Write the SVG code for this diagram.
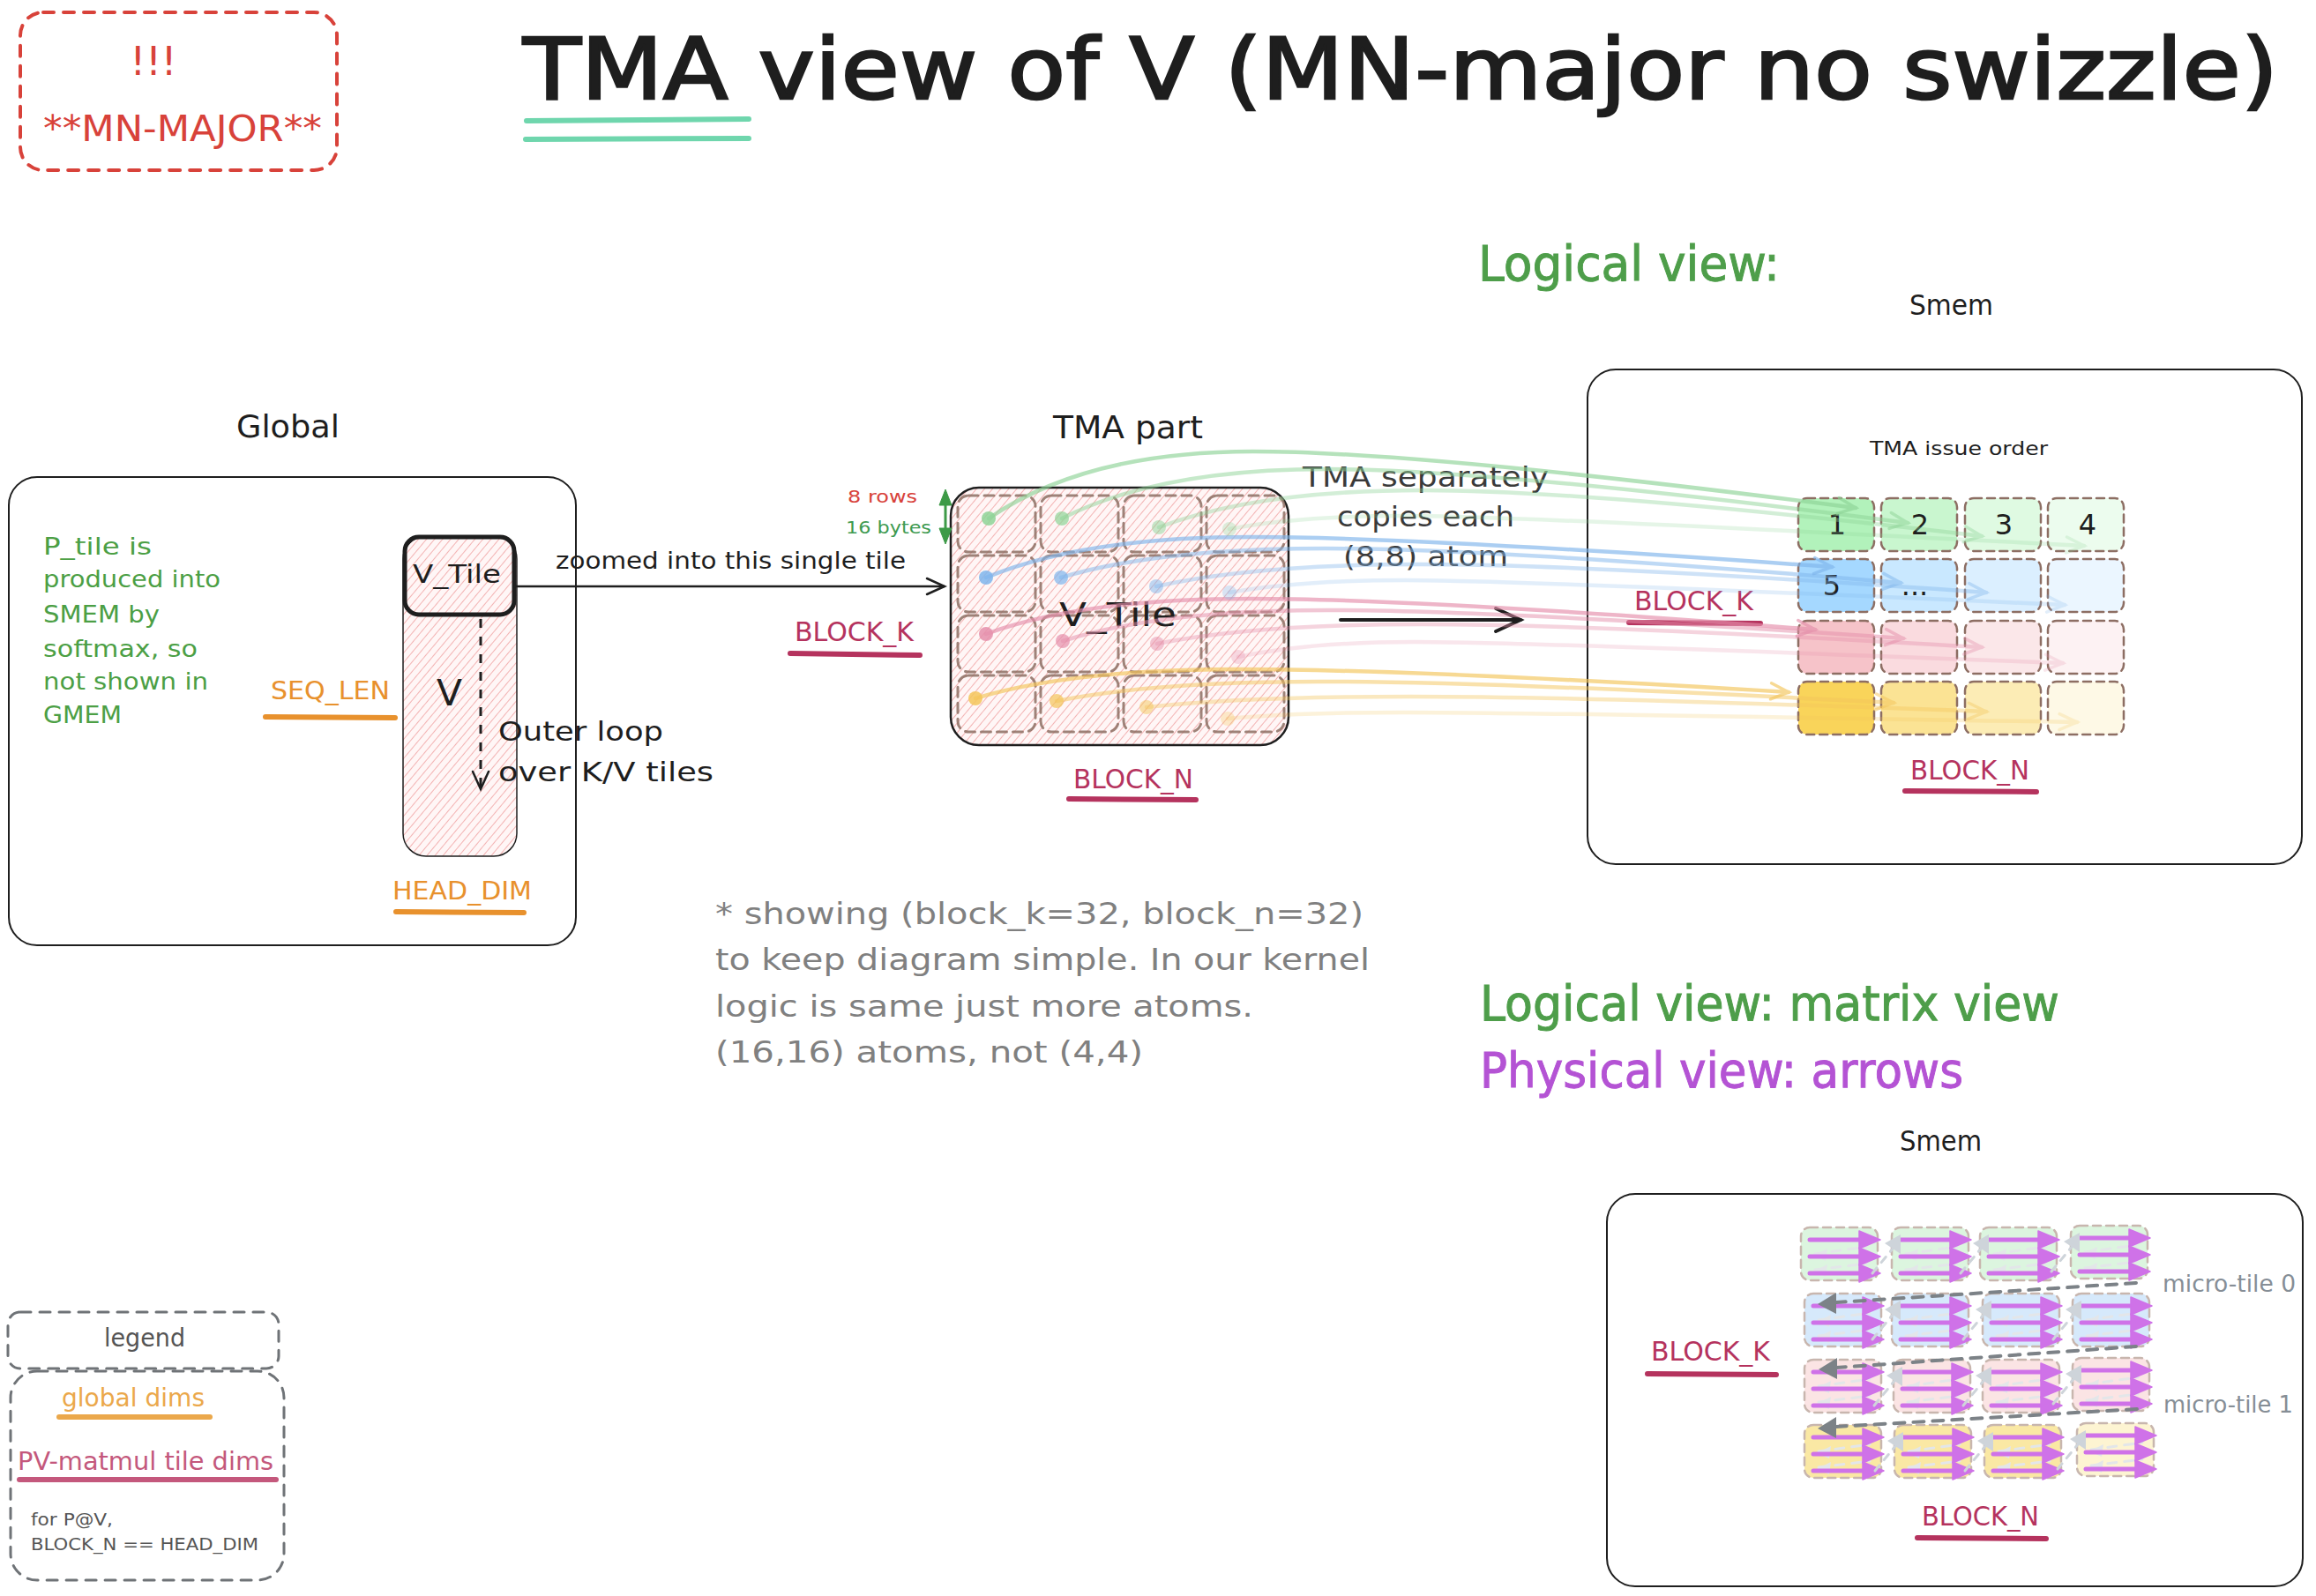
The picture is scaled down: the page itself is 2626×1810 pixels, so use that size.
<svg xmlns="http://www.w3.org/2000/svg" xmlns:xlink="http://www.w3.org/1999/xlink" width="2626" height="1810" viewBox="0 0 2626 1810">
<style>
text{font-family:"DejaVu Sans","Liberation Sans",sans-serif;}
.ink{fill:#1e1e1e}
.red{fill:#d8423a}
.grn{fill:#4e9e4a}
.pur{fill:#b453d4}
.gry{fill:#808080}
.mgry{fill:#868e96}
.org{fill:#e8912d}
.crm{fill:#b5335e}
.box{fill:none;stroke:#1e1e1e;stroke-width:2}
.uline{stroke-width:6;stroke-linecap:round;fill:none}
.cellL{stroke:#8d6e63;stroke-width:2.5;stroke-dasharray:9 6;stroke-linecap:round}
.cellT{fill:none;stroke:#8d6e63;stroke-width:3;stroke-dasharray:11 7;stroke-linecap:round;opacity:.85}
.cellP{stroke:#c8b6ae;stroke-width:2.5;stroke-dasharray:9 6;stroke-linecap:round}
.curve{fill:none;stroke-width:4.5;stroke-linecap:round}
.wrap{fill:none;stroke:#7c8287;stroke-width:4;stroke-dasharray:12 10;stroke-linecap:round}
.lgwrap{fill:none;stroke:#ced4da;stroke-width:3;stroke-dasharray:8 8;stroke-linecap:round}
</style>
<defs>
<pattern id="hatch" patternUnits="userSpaceOnUse" width="7" height="7" patternTransform="rotate(40)">
<rect width="7" height="7" fill="#fff6f6"/>
<line x1="0" y1="0" x2="0" y2="7" stroke="#f0a2a2" stroke-width="1.6"/>
</pattern>
<marker id="mBlack" markerUnits="userSpaceOnUse" markerWidth="30" markerHeight="30" viewBox="-24 -15 30 30" refX="0" refY="0" orient="auto">
<path d="M-20,-9 L0,0 L-20,9" fill="none" stroke="#1e1e1e" stroke-width="2.5" stroke-linecap="round"/>
</marker>
<marker id="mBlackBig" markerUnits="userSpaceOnUse" markerWidth="40" markerHeight="40" viewBox="-34 -20 40 40" refX="0" refY="0" orient="auto">
<path d="M-28,-13 L0,0 L-28,13" fill="none" stroke="#1e1e1e" stroke-width="4" stroke-linecap="round"/>
</marker>
<marker id="mG" markerUnits="userSpaceOnUse" markerWidth="30" markerHeight="30" viewBox="-24 -15 30 30" refX="0" refY="0" orient="auto">
<path d="M-20,-9 L0,0 L-20,9" fill="none" stroke="#8ed497" stroke-width="3.5" stroke-linecap="round"/>
</marker>
<marker id="mB" markerUnits="userSpaceOnUse" markerWidth="30" markerHeight="30" viewBox="-24 -15 30 30" refX="0" refY="0" orient="auto">
<path d="M-20,-9 L0,0 L-20,9" fill="none" stroke="#7fb5ec" stroke-width="3.5" stroke-linecap="round"/>
</marker>
<marker id="mP" markerUnits="userSpaceOnUse" markerWidth="30" markerHeight="30" viewBox="-24 -15 30 30" refX="0" refY="0" orient="auto">
<path d="M-20,-9 L0,0 L-20,9" fill="none" stroke="#e58fab" stroke-width="3.5" stroke-linecap="round"/>
</marker>
<marker id="mY" markerUnits="userSpaceOnUse" markerWidth="30" markerHeight="30" viewBox="-24 -15 30 30" refX="0" refY="0" orient="auto">
<path d="M-20,-9 L0,0 L-20,9" fill="none" stroke="#f4c55a" stroke-width="3.5" stroke-linecap="round"/>
</marker>
<g id="parr">
<path d="M16,30 L74,22 M16,48 L74,41" fill="none" stroke="#e3e6e9" stroke-width="3" stroke-dasharray="10 9" stroke-linecap="round"/>
<polygon points="14,32 30,24 28,38" fill="#e3e6e9"/>
<polygon points="14,50 30,42 28,56" fill="#e3e6e9"/>
<g stroke="#cf72e8" stroke-width="5" fill="#cf72e8" stroke-linecap="round" stroke-linejoin="round">
<line x1="10" y1="14" x2="68" y2="14"/>
<polygon points="66,4 90,14 66,24" stroke-width="1.5"/>
<line x1="10" y1="33" x2="68" y2="33"/>
<polygon points="66,23 90,33 66,43" stroke-width="1.5"/>
<line x1="10" y1="52" x2="68" y2="52"/>
<polygon points="66,42 90,52 66,62" stroke-width="1.5"/>
</g>
</g>
<g id="lgArr">
<path d="M-22,52 L6,18" class="lgwrap"/>
<polygon points="-8,18 10,8 10,30" fill="#ced4da"/>
</g>
</defs>

<rect width="2626" height="1810" fill="#ffffff"/>

<g id="mn-major-note">
<rect x="23" y="14" width="359" height="179" rx="26" fill="none" stroke="#d8423a" stroke-width="4" stroke-dasharray="12 11" stroke-linecap="round"/>
<text x="174" y="85" class="red" font-size="44" text-anchor="middle">!!!</text>
<text x="49" y="160" class="red" font-size="40" textLength="316" lengthAdjust="spacingAndGlyphs">**MN-MAJOR**</text>
</g>

<g id="title">
<text x="593" y="112" class="ink" font-size="96" stroke="#1e1e1e" stroke-width="2.5" textLength="1990" lengthAdjust="spacingAndGlyphs">TMA view of V (MN-major no swizzle)</text>
<line x1="597" y1="137" x2="849" y2="135" class="uline" stroke="#6fd6ad"/>
<line x1="596" y1="158" x2="849" y2="157" class="uline" stroke="#6fd6ad"/>
</g>

<g id="logical-view-label">
<text x="1676" y="318" class="grn" font-size="56" stroke="#4e9e4a" stroke-width="1" textLength="342" lengthAdjust="spacingAndGlyphs">Logical view:</text>
</g>

<g id="global-box">
<text x="268" y="496" class="ink" font-size="36" textLength="117" lengthAdjust="spacingAndGlyphs">Global</text>
<rect x="10" y="541" width="643" height="531" rx="32" class="box"/>
<g fill="#4c9f45" font-size="27">
<text x="49" y="629" textLength="123" lengthAdjust="spacingAndGlyphs">P_tile is</text>
<text x="49" y="666" textLength="201" lengthAdjust="spacingAndGlyphs">produced into</text>
<text x="49" y="706" textLength="132" lengthAdjust="spacingAndGlyphs">SMEM by</text>
<text x="49" y="745" textLength="175" lengthAdjust="spacingAndGlyphs">softmax, so</text>
<text x="49" y="782" textLength="187" lengthAdjust="spacingAndGlyphs">not shown in</text>
<text x="49" y="820" textLength="89" lengthAdjust="spacingAndGlyphs">GMEM</text>
</g>
<text x="307" y="793" class="org" font-size="28" textLength="135" lengthAdjust="spacingAndGlyphs">SEQ_LEN</text>
<line x1="301" y1="813" x2="448" y2="814" class="uline" stroke="#e8912d"/>
<text x="445" y="1020" class="org" font-size="28" textLength="158" lengthAdjust="spacingAndGlyphs">HEAD_DIM</text>
<line x1="449" y1="1034" x2="594" y2="1035" class="uline" stroke="#e8912d"/>
</g>

<g id="v-column">
<rect x="457" y="608" width="129" height="363" rx="26" fill="url(#hatch)" stroke="#1e1e1e" stroke-width="1.5"/>
<rect x="459" y="609" width="124" height="88" rx="16" fill="none" stroke="#1e1e1e" stroke-width="5"/>
<text x="468" y="661" class="ink" font-size="28" textLength="100" lengthAdjust="spacingAndGlyphs">V_Tile</text>
<text x="495" y="800" class="ink" font-size="40" textLength="29" lengthAdjust="spacingAndGlyphs">V</text>
</g>

<g id="outer-loop-label">
<text x="565" y="840" class="ink" font-size="30" textLength="187" lengthAdjust="spacingAndGlyphs">Outer loop</text>
<text x="565" y="886" class="ink" font-size="30" textLength="244" lengthAdjust="spacingAndGlyphs">over K/V tiles</text>
</g>

<g id="zoom-label">
<text x="630" y="645" class="ink" font-size="26" textLength="397" lengthAdjust="spacingAndGlyphs">zoomed into this single tile</text>
</g>

<g id="tma-part">
<text x="1194" y="497" class="ink" font-size="36" textLength="170" lengthAdjust="spacingAndGlyphs">TMA part</text>
<rect x="1078" y="553" width="383" height="292" rx="32" fill="url(#hatch)" stroke="#1e1e1e" stroke-width="2.5"/>
<rect x="1086" y="562" width="88" height="64" rx="12" class="cellT"/>
<rect x="1180" y="562" width="88" height="64" rx="12" class="cellT"/>
<rect x="1274" y="562" width="88" height="64" rx="12" class="cellT"/>
<rect x="1368" y="562" width="88" height="64" rx="12" class="cellT"/>
<rect x="1086" y="630" width="88" height="64" rx="12" class="cellT"/>
<rect x="1180" y="630" width="88" height="64" rx="12" class="cellT"/>
<rect x="1274" y="630" width="88" height="64" rx="12" class="cellT"/>
<rect x="1368" y="630" width="88" height="64" rx="12" class="cellT"/>
<rect x="1086" y="698" width="88" height="64" rx="12" class="cellT"/>
<rect x="1180" y="698" width="88" height="64" rx="12" class="cellT"/>
<rect x="1274" y="698" width="88" height="64" rx="12" class="cellT"/>
<rect x="1368" y="698" width="88" height="64" rx="12" class="cellT"/>
<rect x="1086" y="766" width="88" height="64" rx="12" class="cellT"/>
<rect x="1180" y="766" width="88" height="64" rx="12" class="cellT"/>
<rect x="1274" y="766" width="88" height="64" rx="12" class="cellT"/>
<rect x="1368" y="766" width="88" height="64" rx="12" class="cellT"/>
<text x="1201" y="710" class="ink" font-size="38" textLength="133" lengthAdjust="spacingAndGlyphs">V_Tile</text>
<text x="961" y="570" class="red" font-size="20" textLength="79" lengthAdjust="spacingAndGlyphs">8 rows</text>
<text x="959" y="605" fill="#3d9a50" font-size="20" textLength="97" lengthAdjust="spacingAndGlyphs">16 bytes</text>
<text x="901" y="727" class="crm" font-size="30" textLength="135" lengthAdjust="spacingAndGlyphs">BLOCK_K</text>
<line x1="896" y1="741" x2="1043" y2="743" class="uline" stroke="#b5335e"/>
<text x="1217" y="894" class="crm" font-size="30" textLength="136" lengthAdjust="spacingAndGlyphs">BLOCK_N</text>
<line x1="1212" y1="906" x2="1356" y2="907" class="uline" stroke="#b5335e"/>
</g>

<g id="tma-copy-note">
<text x="1477" y="552" fill="#3a3a3a" font-size="32" textLength="279" lengthAdjust="spacingAndGlyphs">TMA separately</text>
<text x="1516" y="597" fill="#3a3a3a" font-size="32" textLength="201" lengthAdjust="spacingAndGlyphs">copies each</text>
<text x="1523" y="642" fill="#3a3a3a" font-size="32" textLength="187" lengthAdjust="spacingAndGlyphs">(8,8) atom</text>
</g>

<g id="smem-logical">
<text x="2165" y="357" class="ink" font-size="32" textLength="95" lengthAdjust="spacingAndGlyphs">Smem</text>
<rect x="1800" y="419" width="810" height="561" rx="32" class="box"/>
<text x="2120" y="516" class="ink" font-size="22" textLength="202" lengthAdjust="spacingAndGlyphs">TMA issue order</text>
<g fill="#b2f2bb">
<rect x="2039" y="565" width="86" height="60" rx="10" class="cellL"/>
<rect x="2133" y="565" width="86" height="60" rx="10" class="cellL" fill-opacity=".7"/>
<rect x="2228" y="565" width="86" height="60" rx="10" class="cellL" fill-opacity=".42"/>
<rect x="2322" y="565" width="86" height="60" rx="10" class="cellL" fill-opacity=".25"/>
</g>
<g fill="#a5d8ff">
<rect x="2039" y="634" width="86" height="60" rx="10" class="cellL"/>
<rect x="2133" y="634" width="86" height="60" rx="10" class="cellL" fill-opacity=".6"/>
<rect x="2228" y="634" width="86" height="60" rx="10" class="cellL" fill-opacity=".4"/>
<rect x="2322" y="634" width="86" height="60" rx="10" class="cellL" fill-opacity=".22"/>
</g>
<g fill="#f6c3c9">
<rect x="2039" y="704" width="86" height="60" rx="10" class="cellL"/>
<rect x="2133" y="704" width="86" height="60" rx="10" class="cellL" fill-opacity=".6"/>
<rect x="2228" y="704" width="86" height="60" rx="10" class="cellL" fill-opacity=".4"/>
<rect x="2322" y="704" width="86" height="60" rx="10" class="cellL" fill-opacity=".22"/>
</g>
<g fill="#f9d45a">
<rect x="2039" y="773" width="86" height="60" rx="10" class="cellL"/>
<rect x="2133" y="773" width="86" height="60" rx="10" class="cellL" fill-opacity=".65"/>
<rect x="2228" y="773" width="86" height="60" rx="10" class="cellL" fill-opacity=".45"/>
<rect x="2322" y="773" width="86" height="60" rx="10" class="cellL" fill-opacity=".15"/>
</g>
<g class="ink" font-size="32" text-anchor="middle">
<text x="2083" y="606">1</text>
<text x="2177" y="606">2</text>
<text x="2272" y="606">3</text>
<text x="2367" y="606">4</text>
<text x="2077" y="675">5</text>
<text x="2171" y="675">...</text>
</g>
<text x="1853" y="692" class="crm" font-size="30" textLength="135" lengthAdjust="spacingAndGlyphs">BLOCK_K</text>
<line x1="1847" y1="706" x2="1996" y2="707" class="uline" stroke="#b5335e"/>
<text x="2166" y="884" class="crm" font-size="30" textLength="135" lengthAdjust="spacingAndGlyphs">BLOCK_N</text>
<line x1="2160" y1="897" x2="2309" y2="898" class="uline" stroke="#b5335e"/>
</g>

<g id="footnote">
<g class="gry" font-size="34">
<text x="811" y="1048" textLength="735" lengthAdjust="spacingAndGlyphs">* showing (block_k=32, block_n=32)</text>
<text x="811" y="1100" textLength="742" lengthAdjust="spacingAndGlyphs">to keep diagram simple. In our kernel</text>
<text x="811" y="1153" textLength="610" lengthAdjust="spacingAndGlyphs">logic is same just more atoms.</text>
<text x="811" y="1205" textLength="485" lengthAdjust="spacingAndGlyphs">(16,16) atoms, not (4,4)</text>
</g>
</g>

<g id="view-labels">
<text x="1678" y="1157" class="grn" font-size="56" stroke="#4e9e4a" stroke-width="1" textLength="657" lengthAdjust="spacingAndGlyphs">Logical view: matrix view</text>
<text x="1678" y="1233" class="pur" font-size="56" stroke="#b453d4" stroke-width="1" textLength="548" lengthAdjust="spacingAndGlyphs">Physical view: arrows</text>
</g>

<g id="smem-physical">
<text x="2154" y="1305" class="ink" font-size="32" textLength="93" lengthAdjust="spacingAndGlyphs">Smem</text>
<rect x="1822" y="1354" width="789" height="445" rx="32" class="box"/>
<g fill="#dcf5df">
<rect x="2042" y="1392" width="87" height="60" rx="10" class="cellP"/>
<rect x="2145" y="1392" width="87" height="60" rx="10" class="cellP"/>
<rect x="2245" y="1392" width="87" height="60" rx="10" class="cellP"/>
<rect x="2348" y="1390" width="87" height="60" rx="10" class="cellP"/>
</g>
<g fill="#d6e9fb">
<rect x="2046" y="1467" width="87" height="60" rx="10" class="cellP"/>
<rect x="2145" y="1467" width="87" height="60" rx="10" class="cellP"/>
<rect x="2248" y="1467" width="87" height="60" rx="10" class="cellP"/>
<rect x="2350" y="1467" width="87" height="60" rx="10" class="cellP"/>
</g>
<g fill="#fbe4e4">
<rect x="2046" y="1542" width="87" height="60" rx="10" class="cellP"/>
<rect x="2147" y="1542" width="87" height="60" rx="10" class="cellP"/>
<rect x="2248" y="1542" width="87" height="60" rx="10" class="cellP"/>
<rect x="2350" y="1540" width="87" height="60" rx="10" class="cellP"/>
</g>
<g fill="#fae8a4">
<rect x="2046" y="1616" width="87" height="60" rx="10" class="cellP"/>
<rect x="2148" y="1616" width="87" height="60" rx="10" class="cellP"/>
<rect x="2250" y="1616" width="87" height="60" rx="10" class="cellP"/>
<rect x="2355" y="1614" width="87" height="60" rx="10" class="cellP" fill="#fdf4d2"/>
</g>
<use xlink:href="#parr" x="2042" y="1392"/>
<use xlink:href="#parr" x="2145" y="1392"/>
<use xlink:href="#parr" x="2245" y="1392"/>
<use xlink:href="#parr" x="2348" y="1390"/>
<use xlink:href="#parr" x="2046" y="1467"/>
<use xlink:href="#parr" x="2145" y="1467"/>
<use xlink:href="#parr" x="2248" y="1467"/>
<use xlink:href="#parr" x="2350" y="1467"/>
<use xlink:href="#parr" x="2046" y="1542"/>
<use xlink:href="#parr" x="2147" y="1542"/>
<use xlink:href="#parr" x="2248" y="1542"/>
<use xlink:href="#parr" x="2350" y="1540"/>
<use xlink:href="#parr" x="2046" y="1616"/>
<use xlink:href="#parr" x="2148" y="1616"/>
<use xlink:href="#parr" x="2250" y="1616"/>
<use xlink:href="#parr" x="2355" y="1614"/>
<text x="1872" y="1543" class="crm" font-size="30" textLength="135" lengthAdjust="spacingAndGlyphs">BLOCK_K</text>
<line x1="1868" y1="1558" x2="2014" y2="1559" class="uline" stroke="#b5335e"/>
<text x="2179" y="1730" class="crm" font-size="30" textLength="133" lengthAdjust="spacingAndGlyphs">BLOCK_N</text>
<line x1="2174" y1="1744" x2="2320" y2="1745" class="uline" stroke="#b5335e"/>
<text x="2452" y="1465" class="mgry" font-size="26" textLength="151" lengthAdjust="spacingAndGlyphs">micro-tile 0</text>
<text x="2453" y="1602" class="mgry" font-size="26" textLength="147" lengthAdjust="spacingAndGlyphs">micro-tile 1</text>
</g>

<g id="legend">
<rect x="9" y="1488" width="307" height="64" rx="14" fill="none" stroke="#6f7377" stroke-width="3" stroke-dasharray="12 10" stroke-linecap="round"/>
<text x="118" y="1527" fill="#555555" font-size="28" textLength="92" lengthAdjust="spacingAndGlyphs">legend</text>
<rect x="12" y="1555" width="310" height="237" rx="30" fill="none" stroke="#6f7377" stroke-width="3" stroke-dasharray="12 10" stroke-linecap="round"/>
<text x="70" y="1595" fill="#eba84b" font-size="28" textLength="162" lengthAdjust="spacingAndGlyphs">global dims</text>
<line x1="67" y1="1607" x2="238" y2="1607" class="uline" stroke="#eba84b"/>
<text x="20" y="1667" fill="#c4587c" font-size="28" textLength="290" lengthAdjust="spacingAndGlyphs">PV-matmul tile dims</text>
<line x1="22" y1="1678" x2="313" y2="1678" class="uline" stroke="#c4587c"/>
<text x="35" y="1730" fill="#555555" font-size="20" textLength="93" lengthAdjust="spacingAndGlyphs">for P@V,</text>
<text x="35" y="1758" fill="#555555" font-size="20" textLength="258" lengthAdjust="spacingAndGlyphs">BLOCK_N == HEAD_DIM</text>
</g>

<g id="connectors">
<line id="zoom-arrow" x1="583" y1="665" x2="1071" y2="665" stroke="#1e1e1e" stroke-width="2.5" marker-end="url(#mBlack)"/>
<line id="outer-loop-arrow" x1="545" y1="702" x2="545" y2="895" stroke="#1e1e1e" stroke-width="3" stroke-dasharray="10 10" marker-end="url(#mBlack)"/>
<g id="rows-arrow" stroke="#3d9a47" fill="#3d9a47">
<line x1="1072" y1="568" x2="1072" y2="604" stroke-width="3"/>
<polygon points="1065,573 1072,555 1079,573" stroke-width="1"/>
<polygon points="1065,599 1072,617 1079,599" stroke-width="1"/>
</g>
<line id="to-smem-arrow" x1="1520" y1="703" x2="1724" y2="703" stroke="#1e1e1e" stroke-width="4" stroke-linecap="round" marker-end="url(#mBlackBig)"/>

<g stroke="#8ed497">
<g opacity=".65"><path class="curve" d="M1121,588 Q1231,512 1421,512 T2104,576" marker-end="url(#mG)"/></g>
<g opacity=".5"><path class="curve" d="M1204,588 Q1314,532 1504,532 T2163,593" marker-end="url(#mG)"/></g>
<g opacity=".38"><path class="curve" d="M1314,598 Q1424,556 1614,556 T2247,608" marker-end="url(#mG)"/></g>
<g opacity=".22"><path class="curve" d="M1394,600 Q1474,585 1594,585 T2363,619" marker-end="url(#mG)"/></g>
</g>
<g stroke="#7fb5ec">
<g opacity=".65"><path class="curve" d="M1118,655 Q1228,609 1418,609 T2077,643" marker-end="url(#mB)"/></g>
<g opacity=".5"><path class="curve" d="M1203,655 Q1313,622 1503,622 T2155,661" marker-end="url(#mB)"/></g>
<g opacity=".38"><path class="curve" d="M1311,665 Q1421,640 1611,640 T2252,672" marker-end="url(#mB)"/></g>
<g opacity=".22"><path class="curve" d="M1394,672 Q1474,658 1594,658 T2341,686" marker-end="url(#mB)"/></g>
</g>
<g stroke="#e58fab">
<g opacity=".65"><path class="curve" d="M1118,719 Q1228,679 1418,679 T2058,714" marker-end="url(#mP)"/></g>
<g opacity=".5"><path class="curve" d="M1205,727 Q1315,692 1505,692 T2158,724" marker-end="url(#mP)"/></g>
<g opacity=".38"><path class="curve" d="M1312,730 Q1422,708 1612,708 T2247,734" marker-end="url(#mP)"/></g>
<g opacity=".22"><path class="curve" d="M1404,745 Q1484,728 1604,728 T2339,752" marker-end="url(#mP)"/></g>
</g>
<g stroke="#f4c55a">
<g opacity=".65"><path class="curve" d="M1106,792 Q1216,759 1406,759 T2028,785" marker-end="url(#mY)"/></g>
<g opacity=".5"><path class="curve" d="M1198,795 Q1308,773 1498,773 T2147,797" marker-end="url(#mY)"/></g>
<g opacity=".38"><path class="curve" d="M1300,802 Q1410,790 1600,790 T2252,807" marker-end="url(#mY)"/></g>
<g opacity=".22"><path class="curve" d="M1392,815 Q1472,808 1592,808 T2355,819" marker-end="url(#mY)"/></g>
</g>
<g id="atom-dots">
<g fill="#8ed497">
<circle cx="1121" cy="588" r="8" opacity=".85"/><circle cx="1204" cy="588" r="8" opacity=".7"/><circle cx="1314" cy="598" r="8" opacity=".5"/><circle cx="1394" cy="600" r="8" opacity=".3"/>
</g>
<g fill="#7fb5ec">
<circle cx="1118" cy="655" r="8" opacity=".85"/><circle cx="1203" cy="655" r="8" opacity=".7"/><circle cx="1311" cy="665" r="8" opacity=".5"/><circle cx="1394" cy="672" r="8" opacity=".3"/>
</g>
<g fill="#e58fab">
<circle cx="1118" cy="719" r="8" opacity=".85"/><circle cx="1205" cy="727" r="8" opacity=".7"/><circle cx="1312" cy="730" r="8" opacity=".5"/><circle cx="1404" cy="745" r="8" opacity=".3"/>
</g>
<g fill="#f4c55a">
<circle cx="1106" cy="792" r="8" opacity=".85"/><circle cx="1198" cy="795" r="8" opacity=".7"/><circle cx="1300" cy="802" r="8" opacity=".5"/><circle cx="1392" cy="815" r="8" opacity=".3"/>
</g>
</g>

<g id="physical-order">
<use xlink:href="#lgArr" x="2145" y="1392"/>
<use xlink:href="#lgArr" x="2245" y="1392"/>
<use xlink:href="#lgArr" x="2348" y="1390"/>
<use xlink:href="#lgArr" x="2145" y="1467"/>
<use xlink:href="#lgArr" x="2248" y="1467"/>
<use xlink:href="#lgArr" x="2350" y="1467"/>
<use xlink:href="#lgArr" x="2147" y="1542"/>
<use xlink:href="#lgArr" x="2248" y="1542"/>
<use xlink:href="#lgArr" x="2350" y="1540"/>
<use xlink:href="#lgArr" x="2148" y="1616"/>
<use xlink:href="#lgArr" x="2250" y="1616"/>
<use xlink:href="#lgArr" x="2355" y="1614"/>
<path class="wrap" d="M2422,1455 L2082,1477"/>
<polygon points="2061,1479 2082,1466 2082,1490" fill="#7c8287"/>
<path class="wrap" d="M2422,1527 L2082,1551"/>
<polygon points="2062,1553 2083,1540 2083,1564" fill="#7c8287"/>
<path class="wrap" d="M2423,1598 L2082,1618"/>
<polygon points="2061,1620 2082,1607 2082,1631" fill="#7c8287"/>
</g>
</g>
</svg>
